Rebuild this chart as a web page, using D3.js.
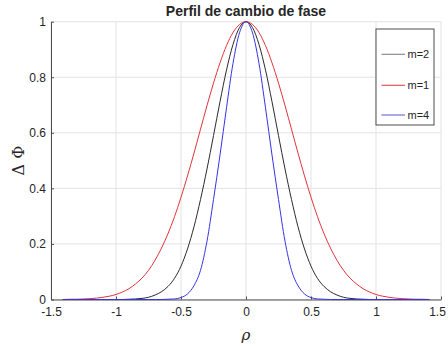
<!DOCTYPE html>
<html>
<head>
<meta charset="utf-8">
<script src="https://cdn.jsdelivr.net/npm/d3@7"></script>
<style>
  html, body { margin: 0; padding: 0; background: #fff; }
  svg { display: block; }
  text { font-family: "Liberation Sans", Arial, sans-serif; fill: #262626; }
</style>
</head>
<body>
<svg id="chart" width="448" height="346"></svg>
<script>
// Radial coordinate samples (half profile, mirrored below)
const rhoHalf = [0, 0.05, 0.1, 0.15, 0.2, 0.25, 0.3, 0.35, 0.4, 0.45, 0.5, 0.55, 0.6, 0.65, 0.7,
                 0.75, 0.8, 0.85, 0.9, 0.95, 1.0, 1.05, 1.1, 1.15, 1.2, 1.25, 1.3, 1.35, 1.41];

// Phase change profile for each order m
const phaseM1 = [1, 0.990, 0.961, 0.914, 0.852, 0.779, 0.698, 0.613, 0.527, 0.445, 0.368, 0.298,
                 0.237, 0.185, 0.141, 0.105, 0.077, 0.056, 0.039, 0.027, 0.018, 0.012, 0.008,
                 0.005, 0.003, 0.002, 0.001, 0.001, 0.000];
const phaseM2 = [1, 0.979, 0.918, 0.826, 0.712, 0.590, 0.470, 0.360, 0.262, 0.182, 0.120, 0.076,
                 0.047, 0.028, 0.016, 0.008, 0.004, 0.002, 0.001, 0.000, 0.000, 0.000, 0.000,
                 0.000, 0.000, 0.000, 0.000, 0.000, 0.000];
const phaseM4 = [1, 0.960, 0.850, 0.690, 0.520, 0.360, 0.210, 0.105, 0.050, 0.020, 0.007, 0.002,
                 0.001, 0.000, 0.000, 0.000, 0.000, 0.000, 0.000, 0.000, 0.000, 0.000, 0.000,
                 0.000, 0.000, 0.000, 0.000, 0.000, 0.000];

const xTicks = [-1.5, -1, -0.5, 0, 0.5, 1, 1.5];
const yTicks = [0, 0.2, 0.4, 0.6, 0.8, 1];

const seriesNames = ["m=2", "m=1", "m=4"];
const seriesValues = [phaseM2, phaseM1, phaseM4];
const seriesColors = ["#2b2b2b", "#e0343a", "#3434e6"];
const legendColors = ["#8c8c8c", "#e0545a", "#7070d8"];

const svg = d3.select("#chart");
const plotL = 51, plotR = 441, plotT = 21.7, plotB = 299.5;

const x = d3.scaleLinear().domain([-1.5, 1.5]).range([plotL, plotR]);
const y = d3.scaleLinear().domain([0, 1]).range([plotB, plotT]);

// grid
const grid = svg.append("g").attr("stroke", "#e3e3e3").attr("stroke-width", 1);
xTicks.forEach(t => grid.append("line")
  .attr("x1", x(t)).attr("x2", x(t)).attr("y1", plotT).attr("y2", plotB));
yTicks.forEach(t => grid.append("line")
  .attr("x1", plotL).attr("x2", plotR).attr("y1", y(t)).attr("y2", y(t)));

// axes
const fmt = d => String(d);
const xAxis = svg.append("g").attr("transform", `translate(0,${plotB})`)
  .call(d3.axisBottom(x).tickValues(xTicks).tickFormat(fmt).tickSizeInner(-3).tickSizeOuter(0).tickPadding(8));
const yAxis = svg.append("g").attr("transform", `translate(${plotL},0)`)
  .call(d3.axisLeft(y).tickValues(yTicks).tickFormat(fmt).tickSizeInner(-3).tickSizeOuter(0).tickPadding(5));
[xAxis, yAxis].forEach(a => {
  a.select(".domain").attr("stroke", "#4d4d4d");
  a.selectAll(".tick line").attr("stroke", "#4d4d4d");
  a.selectAll(".tick text").style("font-size", "12px").attr("fill", "#262626")
    .style("font-family", "\"Liberation Sans\", Arial, sans-serif");
});
// keep the last x label inside the canvas edge
xAxis.selectAll(".tick text").filter(d => d === 1.5).attr("dx", -4);

// curves
const line = d3.line().x(d => x(d[0])).y(d => y(d[1])).curve(d3.curveMonotoneX);
seriesValues.forEach((vals, i) => {
  const pts = [];
  for (let k = rhoHalf.length - 1; k > 0; k--) pts.push([-rhoHalf[k], vals[k]]);
  for (let k = 0; k < rhoHalf.length; k++) pts.push([rhoHalf[k], vals[k]]);
  svg.append("path").datum(pts)
    .attr("fill", "none").attr("stroke", seriesColors[i]).attr("stroke-width", 1)
    .attr("d", line);
});

// title and axis labels
svg.append("text").attr("x", 246).attr("y", 15.5).attr("text-anchor", "middle")
  .style("font-size", "14px").style("font-weight", "bold").attr("fill", "#000")
  .text("Perfil de cambio de fase");
svg.append("text").attr("x", x(0)).attr("y", 340).attr("text-anchor", "middle")
  .style("font-size", "15px").style("font-style", "italic")
  .style("font-family", "\"DejaVu Serif\", serif")
  .text("ρ");
svg.append("text").attr("transform", `translate(24,${(plotT + plotB) / 2}) rotate(-90)`)
  .attr("text-anchor", "middle").style("font-size", "16px")
  .style("font-family", "\"DejaVu Serif\", serif")
  .text("Δ Φ");

// legend
const lg = svg.append("g");
lg.append("rect").attr("x", 376).attr("y", 29).attr("width", 58).attr("height", 96)
  .attr("fill", "#fff").attr("stroke", "#4d4d4d").attr("stroke-width", 1);
const rowY = [54.3, 85.3, 115];
seriesNames.forEach((name, i) => {
  lg.append("line").attr("x1", 381.5).attr("x2", 405).attr("y1", rowY[i]).attr("y2", rowY[i])
    .attr("stroke", legendColors[i]).attr("stroke-width", 1.2);
  lg.append("text").attr("x", 407.5).attr("y", rowY[i] + 4)
    .style("font-size", "11px").attr("fill", "#262626").text(name);
});
</script>
</body>
</html>
